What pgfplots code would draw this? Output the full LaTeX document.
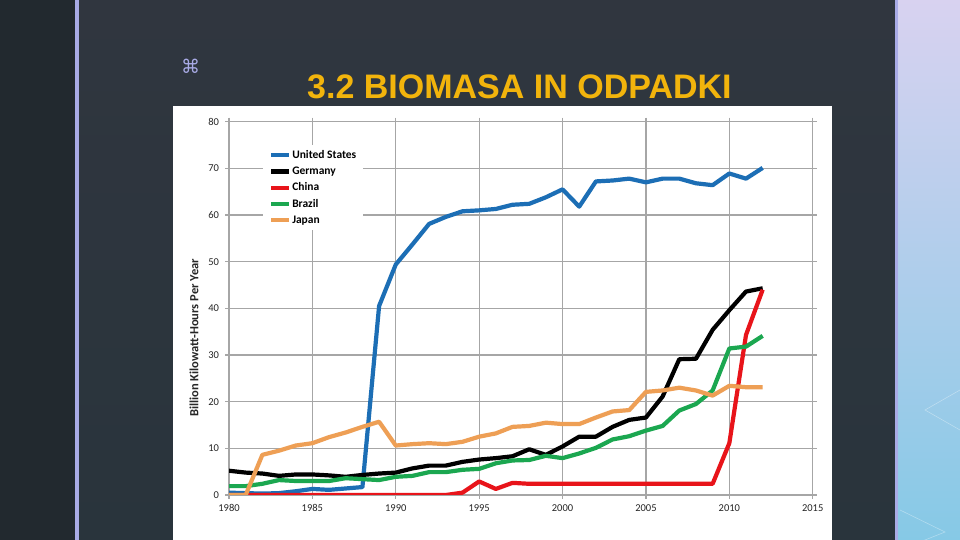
\documentclass[border=0pt]{standalone}
\usepackage{fontspec}
\setmainfont{Carlito}
\newfontfamily\titlefont{Liberation Sans}
\newfontfamily\symfont{DejaVu Sans}
\usepackage{pgfplots}
\pgfplotsset{compat=1.18}
\definecolor{leftdark}{HTML}{22292F}
\definecolor{lav}{HTML}{A9ABE6}
\definecolor{paneltop}{HTML}{30363F}
\definecolor{panelbot}{HTML}{29343C}
\definecolor{righttop}{HTML}{D8D2F0}
\definecolor{rightbot}{HTML}{86C9E6}
\definecolor{titlecol}{HTML}{F2B40C}
\definecolor{gridgray}{HTML}{A6A6A6}
\definecolor{tickcol}{HTML}{262626}
\definecolor{cUS}{HTML}{1C6EB5}
\definecolor{cDE}{HTML}{000000}
\definecolor{cCN}{HTML}{E8141A}
\definecolor{cBR}{HTML}{1BA750}
\definecolor{cJP}{HTML}{EE9F55}
\begin{document}
\begin{tikzpicture}[x=1pt,y=1pt]
\fill[leftdark] (0,0) rectangle (75,540);
\fill[lav] (75,0) rectangle (79,540);
\shade[top color=paneltop, bottom color=panelbot] (79,0) rectangle (895,540);
\fill[lav] (895,0) rectangle (898,540);
\shade[top color=righttop, bottom color=rightbot] (898,0) rectangle (960,540);
\draw[white, opacity=0.35, line width=0.6pt] (960,110) -- (925,130) -- (960,150);
\draw[white, opacity=0.35, line width=0.6pt] (900,30) -- (945,8) -- (900,-10);
\fill[white] (173,0) rectangle (832,434);
\node[anchor=base west, font=\titlefont\bfseries\fontsize{34}{40}\selectfont, text=titlecol, inner sep=0pt] at (307,441) {3.2 BIOMASA IN ODPADKI};
\node[font=\symfont\fontsize{19}{22}\selectfont, text=lav, inner sep=0pt] at (190.5,474) {⌘};
\begin{axis}[
  at={(229pt,45pt)}, anchor=south west,
  scale only axis, width=583.7pt, height=373.3pt,
  xmin=1980, xmax=2015, ymin=0, ymax=80,
  xtick={1980,1985,...,2015}, ytick={0,10,...,80},
  grid=major, major grid style={gridgray, line width=1.2pt},
  axis line style={gridgray, line width=1.2pt},
  major tick length=4pt, tick align=outside,
  major tick style={gridgray, line width=1.2pt},
  tick label style={font=\fontsize{10.5}{12}\selectfont, text=tickcol},
  /pgf/number format/1000 sep={}, /pgf/number format/assume math mode=true,
  yticklabel style={xshift=-2.5pt},
  xticklabel style={yshift=-2pt},
  ylabel={Billion Kilowatt-Hours Per Year},
  ylabel style={font=\bfseries\fontsize{12.5}{14}\selectfont, text=tickcol, at={(rel axis cs:-0.06,0.4206)}, anchor=center},
  legend style={at={(rel axis cs:0.058,0.9376)}, anchor=north west, draw=none, fill=white,
    font=\bfseries\fontsize{11.5}{13}\selectfont, inner xsep=6pt, inner ysep=3.5pt,
    nodes={inner sep=1pt, text height=8.5pt, text depth=2.5pt}, row sep=3.3pt},
  legend cell align=left,
  legend image code/.code={\draw[#1] (0pt,0pt) -- (18pt,0pt);},
  every axis plot/.append style={line width=4.2pt, line join=round},
]
\addplot[cUS] coordinates {
(1980,0.5)(1981,0.4)(1982,0.3)(1983,0.4)(1984,0.8)(1985,1.3)(1986,1.1)(1987,1.4)(1988,1.7)
(1989,40.5)(1990,49.4)(1991,53.7)(1992,58.1)(1993,59.6)(1994,60.8)(1995,61.0)(1996,61.3)
(1997,62.2)(1998,62.4)(1999,63.8)(2000,65.5)(2001,61.8)(2002,67.2)(2003,67.4)(2004,67.8)
(2005,67.0)(2006,67.8)(2007,67.8)(2008,66.8)(2009,66.4)(2010,68.9)(2011,67.8)(2012,70.1)};
\addlegendentry{United States}
\addplot[cDE] coordinates {
(1980,5.2)(1981,4.8)(1982,4.6)(1983,4.1)(1984,4.4)(1985,4.4)(1986,4.2)(1987,3.9)(1988,4.3)
(1989,4.6)(1990,4.8)(1991,5.7)(1992,6.3)(1993,6.3)(1994,7.1)(1995,7.6)(1996,7.9)
(1997,8.3)(1998,9.8)(1999,8.6)(2000,10.4)(2001,12.5)(2002,12.5)(2003,14.6)(2004,16.1)
(2005,16.6)(2006,21.1)(2007,29.1)(2008,29.2)(2009,35.4)(2010,39.6)(2011,43.6)(2012,44.3)};
\addlegendentry{Germany}
\addplot[cCN] coordinates {
(1980,0)(1981,0)(1982,0)(1983,0)(1984,0)(1985,0)(1986,0)(1987,0)(1988,0)
(1989,0)(1990,0)(1991,0)(1992,0)(1993,0)(1994,0.5)(1995,2.9)(1996,1.3)
(1997,2.6)(1998,2.4)(1999,2.4)(2000,2.4)(2001,2.4)(2002,2.4)(2003,2.4)(2004,2.4)
(2005,2.4)(2006,2.4)(2007,2.4)(2008,2.4)(2009,2.4)(2010,11.1)(2011,34.3)(2012,44.0)};
\addlegendentry{China}
\addplot[cBR] coordinates {
(1980,1.9)(1981,1.9)(1982,2.4)(1983,3.2)(1984,3.0)(1985,3.0)(1986,3.0)(1987,3.6)(1988,3.4)
(1989,3.2)(1990,3.9)(1991,4.1)(1992,4.9)(1993,4.9)(1994,5.4)(1995,5.6)(1996,6.8)
(1997,7.4)(1998,7.5)(1999,8.4)(2000,7.9)(2001,8.9)(2002,10.1)(2003,11.9)(2004,12.6)
(2005,13.8)(2006,14.8)(2007,18.1)(2008,19.5)(2009,22.4)(2010,31.4)(2011,31.8)(2012,34.1)};
\addlegendentry{Brazil}
\addplot[cJP] coordinates {
(1980,0)(1981,0)(1982,8.6)(1983,9.5)(1984,10.6)(1985,11.1)(1986,12.4)(1987,13.4)(1988,14.6)
(1989,15.7)(1990,10.6)(1991,10.9)(1992,11.1)(1993,10.9)(1994,11.4)(1995,12.5)(1996,13.2)
(1997,14.6)(1998,14.8)(1999,15.5)(2000,15.2)(2001,15.2)(2002,16.6)(2003,17.9)(2004,18.2)
(2005,22.1)(2006,22.4)(2007,23.0)(2008,22.4)(2009,21.3)(2010,23.4)(2011,23.1)(2012,23.1)};
\addlegendentry{Japan}
\end{axis}
\pgfresetboundingbox
\path[use as bounding box] (0,0) rectangle (960,540);
\end{tikzpicture}
\end{document}
